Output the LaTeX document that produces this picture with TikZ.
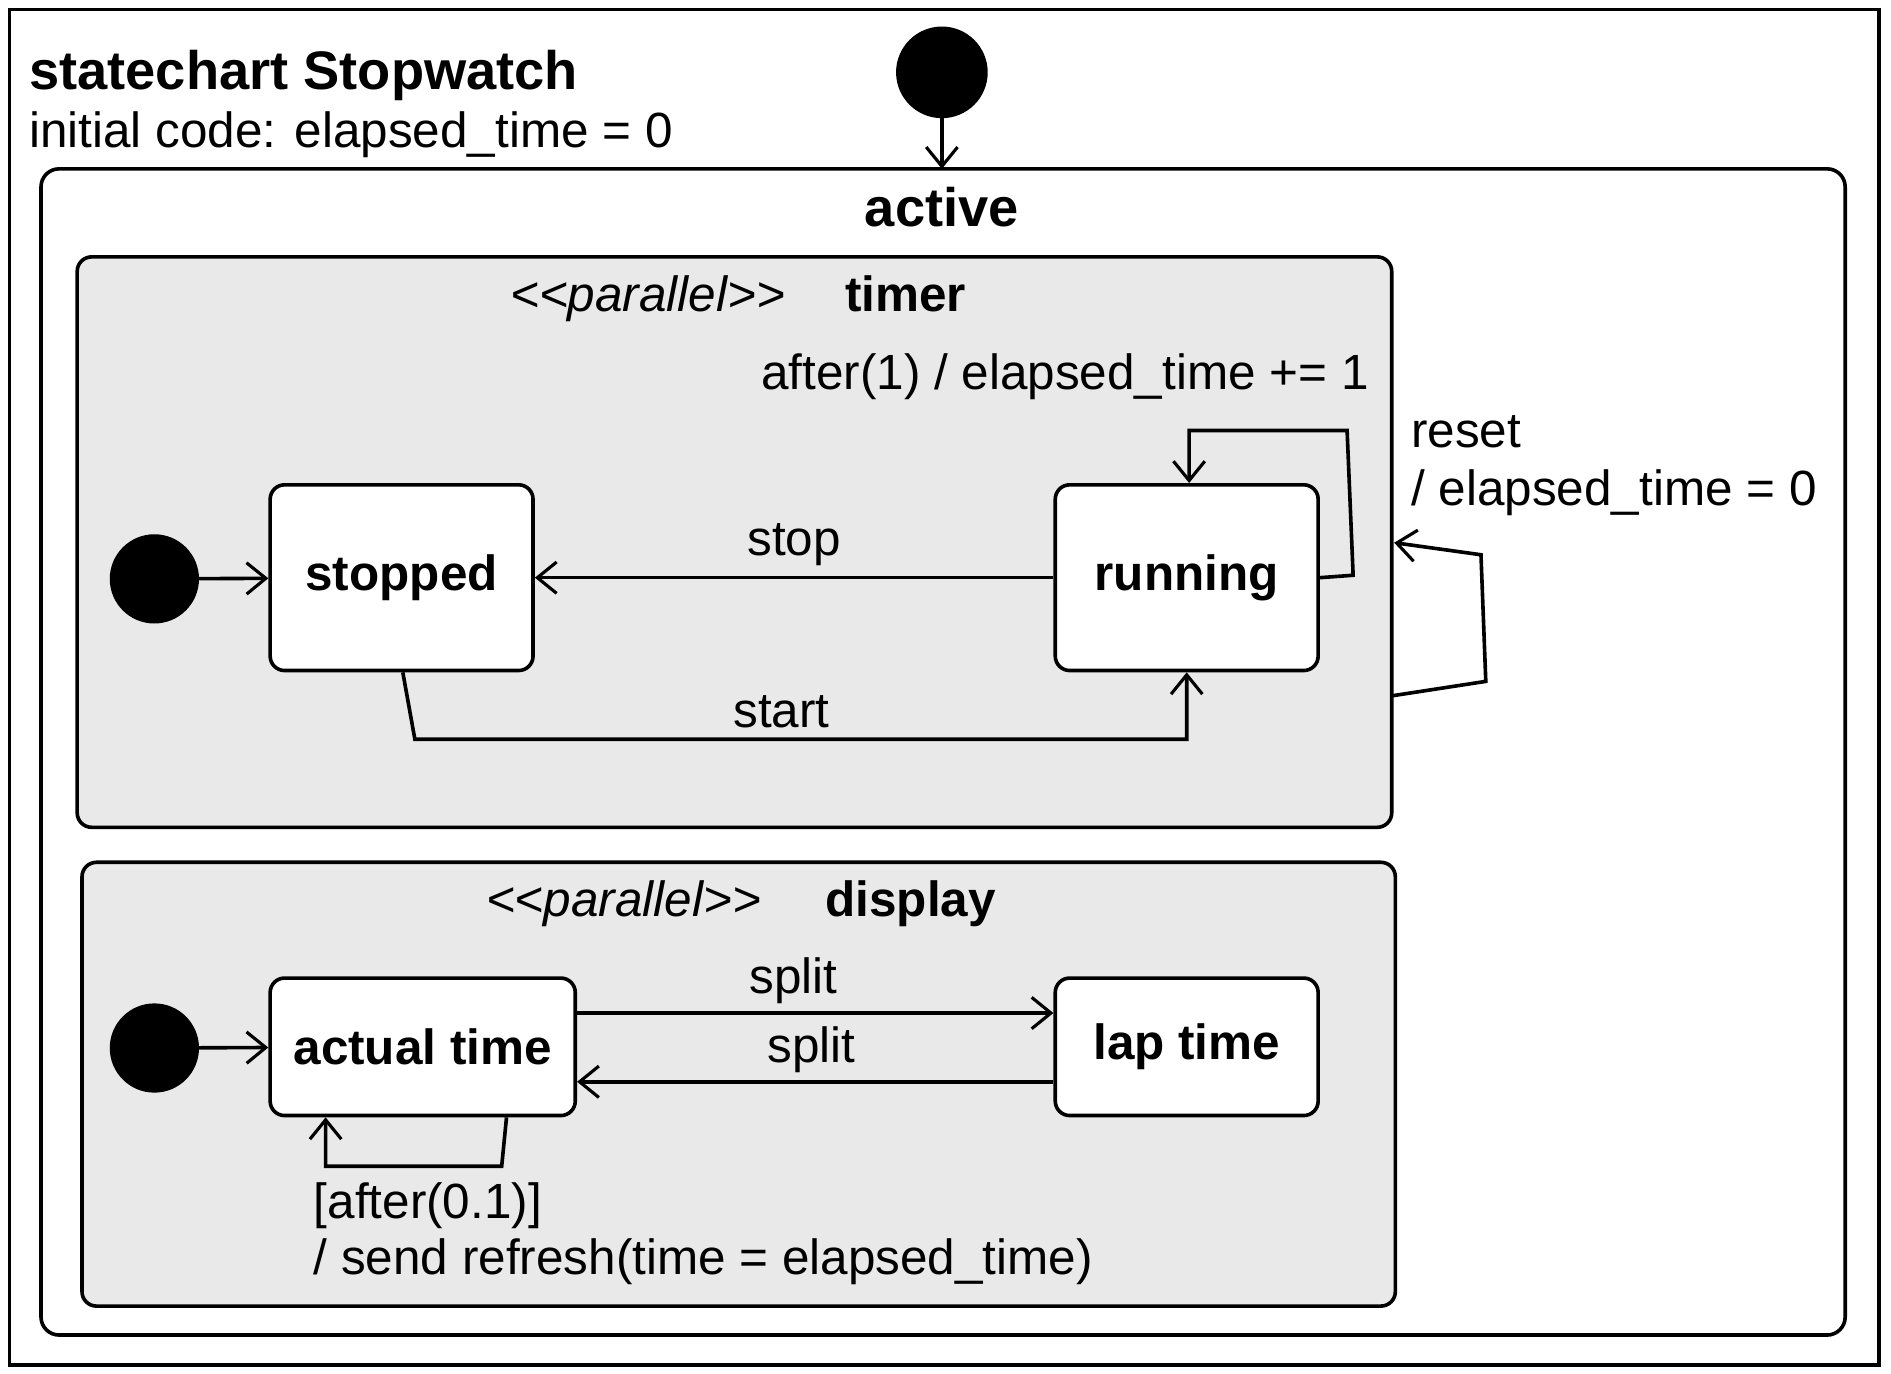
\documentclass[tikz,border=0pt]{standalone}
\usepackage{fontspec}
\setmainfont{Liberation Sans}
\usetikzlibrary{arrows.meta,calc}
\begin{document}
\begin{tikzpicture}[x=1pt,y=-1pt,
  every node/.style={font=\fontsize{41}{48}\selectfont, inner sep=0pt},
  lw/.style={line width=3pt},
  arr/.style={lw,-{Straight Barb[length=16pt,width=26pt,line width=2.6pt]}},
  state/.style={draw,lw,rounded corners=12pt,fill=white,font=\fontsize{41}{48}\selectfont\bfseries},
  region/.style={draw,lw,rounded corners=12pt,fill=gray!17},
  init/.style={circle,fill=black,minimum size=74pt}]
\useasboundingbox (0,0) rectangle (1568,1139);
\fill[white] (0,0) rectangle (1568,1139);
\draw[lw] (8,8) rectangle (1558,1132);
\node[anchor=base west,font=\fontsize{45}{52}\selectfont\bfseries] (title) at (24,74) {statechart Stopwatch};
\node[anchor=base west] (code) at (24,122) {initial code: elapsed\_time = 0};
\node[init,minimum size=76pt] (i0) at (781,60) {};
\draw[lw,rounded corners=15pt] (34,140) rectangle (1530,1107);
\coordinate (acttop) at (781,140);
\draw[arr] (i0) -- (acttop);
\node[anchor=base,font=\fontsize{45}{52}\selectfont\bfseries] (act) at (781,188) {active};
% timer region
\draw[region] (64,213) rectangle (1154,686);
\node[anchor=base,font=\fontsize{41}{48}\selectfont\itshape] (p1) at (537,258) {{<}{<}parallel{>}{>}};
\node[anchor=base,font=\fontsize{41}{48}\selectfont\bfseries] (timer) at (751,258) {timer};
\node[anchor=base] (after1) at (883,323) {after(1) / elapsed\_time += 1};
\node[init] (i1) at (128,480) {};
\node[state,minimum width=218pt,minimum height=154pt] (stopped) at (333,479) {stopped};
\node[state,minimum width=218pt,minimum height=154pt] (running) at (984,479) {running};
\draw[arr] (i1) -- (stopped);
\draw[arr] (running) -- node[above=8pt] {stop} (stopped);
\draw[arr] ($(stopped.south)+(1,0)$) -- (344,613) -- node[above=8pt,xshift=-16pt] {start} (984,613) -- (running.south);
\draw[arr] (running.east) -- (1122,477) -- (1117,357) -- (986,357) -- ($(running.north)+(2,0)$);
\coordinate (rs) at (1154,577);
\coordinate (re) at (1156,450);
\draw[arr] (rs) -- (1232,565) -- (1228,460) -- (re);
\node[anchor=base west] (reset) at (1170,371) {reset};
\node[anchor=base west] (reset2) at (1170,419) {/ elapsed\_time = 0};
% display region
\draw[region] (68,715) rectangle (1157,1083);
\node[anchor=base,font=\fontsize{41}{48}\selectfont\itshape] (p2) at (517,760) {{<}{<}parallel{>}{>}};
\node[anchor=base,font=\fontsize{41}{48}\selectfont\bfseries] (disp) at (755,760) {display};
\node[init] (i2) at (128,869) {};
\node[state,minimum width=253pt,minimum height=114pt] (actual) at (350.5,868) {actual time};
\node[state,minimum width=218pt,minimum height=114pt] (lap) at (984,868) {lap time};
\draw[arr] (i2) -- (actual);
\draw[arr] (actual.east |- 0,840) -- node[above=6pt,xshift=-18pt] {split} (lap.west |- 0,840);
\draw[arr] (lap.west |- 0,897) -- node[above=6pt,xshift=-3pt] {split} (actual.east |- 0,897);
\draw[arr] (actual.south -| 420,0) -- (416,967) -- (270,967) -- (actual.south -| 270,0);
\node[anchor=base west] (g1) at (260,1010) {[after(0.1)]};
\node[anchor=base west] (g2) at (260,1057) {/ send refresh(time = elapsed\_time)};
\end{tikzpicture}
\end{document}
